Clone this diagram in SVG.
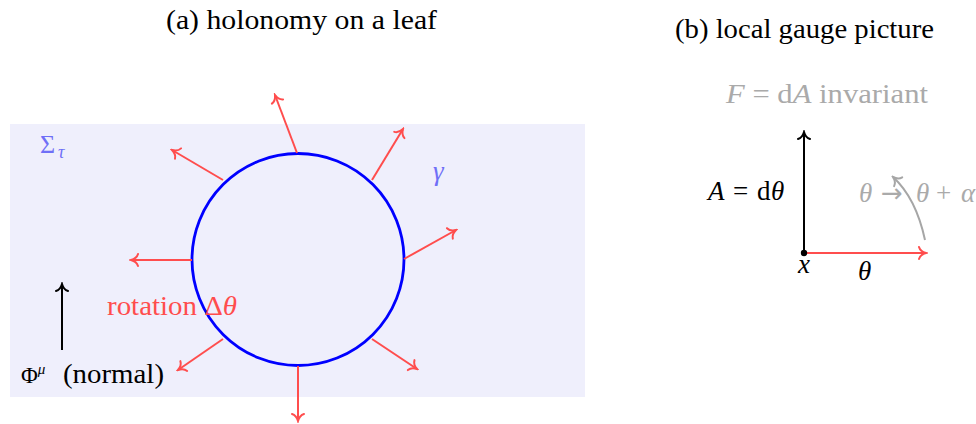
<svg xmlns="http://www.w3.org/2000/svg" width="976" height="424" viewBox="0 0 976 424">
<defs>
<style>
text{font-family:"Liberation Serif","DejaVu Serif",serif;}
.red{stroke:#ff4d4d;stroke-width:2;fill:none;}
.blk{stroke:#000;stroke-width:2;fill:none;}
.gry{stroke:#a6a6a6;stroke-width:2;fill:none;}
</style>
<marker id="mr" markerUnits="userSpaceOnUse" viewBox="-9 -8 11 16" refX="0" refY="0" markerWidth="11" markerHeight="16" orient="auto">
<path d="M-7,-6 C-6,-2.5 -2.5,-0.7 0,0 C-2.5,0.7 -6,2.5 -7,6" fill="none" stroke="#ff4d4d" stroke-width="2" stroke-linecap="round"/>
</marker>
<marker id="mb" markerUnits="userSpaceOnUse" viewBox="-9 -8 11 16" refX="0" refY="0" markerWidth="11" markerHeight="16" orient="auto">
<path d="M-7,-6 C-6,-2.5 -2.5,-0.7 0,0 C-2.5,0.7 -6,2.5 -7,6" fill="none" stroke="#000" stroke-width="2" stroke-linecap="round"/>
</marker>
<marker id="mg" markerUnits="userSpaceOnUse" viewBox="-9 -8 11 16" refX="0" refY="0" markerWidth="11" markerHeight="16" orient="auto">
<path d="M-7,-6 C-6,-2.5 -2.5,-0.7 0,0 C-2.5,0.7 -6,2.5 -7,6" fill="none" stroke="#a6a6a6" stroke-width="2" stroke-linecap="round"/>
</marker>
</defs>
<rect width="976" height="424" fill="#fff"/>

<g id="leaf">
<rect x="10" y="124" width="575" height="273" fill="#efeffc"/>
<text x="40" y="153" font-family="Liberation Serif, serif" font-size="26" fill="#6f6ff7">Σ</text>
<text x="58" y="158" font-family="Liberation Serif, serif" font-size="18" font-style="italic" fill="#6f6ff7">τ</text>
</g>

<g id="titles">
<text x="166" y="29" font-family="Liberation Serif, serif" font-size="27" textLength="271" lengthAdjust="spacingAndGlyphs" fill="#000">(a) holonomy on a leaf</text>
<text x="675" y="38" font-family="Liberation Serif, serif" font-size="27" textLength="259" lengthAdjust="spacingAndGlyphs" fill="#000">(b) local gauge picture</text>
</g>

<g id="loop">
<circle cx="298" cy="259.5" r="106" fill="none" stroke="#0000ff" stroke-width="2.8"/>
<text x="433" y="180" font-family="Liberation Serif, serif" font-size="27" font-style="italic" fill="#6f6ff7">γ</text>
</g>

<g id="connectors">
<line class="red" x1="297" y1="153" x2="275" y2="95" marker-end="url(#mr)"/>
<line class="red" x1="372" y1="180" x2="403" y2="129" marker-end="url(#mr)"/>
<line class="red" x1="223" y1="180" x2="172" y2="150" marker-end="url(#mr)"/>
<line class="red" x1="192" y1="260" x2="131" y2="260" marker-end="url(#mr)"/>
<line class="red" x1="404" y1="259" x2="456" y2="230" marker-end="url(#mr)"/>
<line class="red" x1="223" y1="339" x2="178" y2="370" marker-end="url(#mr)"/>
<line class="red" x1="298" y1="366" x2="298" y2="421" marker-end="url(#mr)"/>
<line class="red" x1="372" y1="339" x2="417" y2="369" marker-end="url(#mr)"/>
<line class="blk" x1="62" y1="350" x2="62" y2="284" marker-end="url(#mb)"/>
<line class="blk" x1="804" y1="253" x2="804" y2="132" marker-end="url(#mb)"/>
<line class="red" x1="804" y1="253" x2="926" y2="253" marker-end="url(#mr)"/>
<path class="gry" d="M925,240 Q916,198 893,177" marker-end="url(#mg)"/>
</g>

<g id="labels-a">
<text x="107" y="315" font-family="Liberation Serif, serif" font-size="27" fill="#ff4d4d" textLength="130" lengthAdjust="spacingAndGlyphs">rotation Δ<tspan font-style="italic">θ</tspan></text>
<text x="21" y="383" font-family="Liberation Serif, serif" font-size="23" fill="#000">Φ<tspan font-size="15" font-style="italic" dy="-9">μ</tspan></text>
<text x="63" y="383" font-family="Liberation Serif, serif" font-size="27" fill="#000" textLength="101" lengthAdjust="spacingAndGlyphs">(normal)</text>
</g>

<g id="gauge">
<circle cx="804" cy="253" r="3.2" fill="#000"/>
<text x="726" y="103" font-family="Liberation Serif, serif" font-size="27" fill="#aaaaaa" textLength="202" lengthAdjust="spacingAndGlyphs"><tspan font-style="italic">F</tspan> = d<tspan font-style="italic">A</tspan> invariant</text>
<text y="200" font-family="Liberation Serif, serif" font-size="27" fill="#000"><tspan x="708" font-style="italic">A</tspan><tspan x="733">=</tspan><tspan x="757">d</tspan><tspan x="771" font-style="italic">θ</tspan></text>
<text y="202" font-family="Liberation Serif, serif" font-size="27" fill="#aaaaaa"><tspan x="859" font-style="italic">θ</tspan><tspan x="881" font-family="DejaVu Sans, sans-serif" font-size="26">→</tspan><tspan x="916" font-style="italic">θ</tspan><tspan x="936">+</tspan><tspan x="961" font-style="italic">α</tspan></text>
<text x="804" y="273" font-family="Liberation Serif, serif" font-size="27" font-style="italic" fill="#000" text-anchor="middle">x</text>
<text x="858" y="280" font-family="Liberation Serif, serif" font-size="27" font-style="italic" fill="#000">θ</text>
</g>
</svg>
